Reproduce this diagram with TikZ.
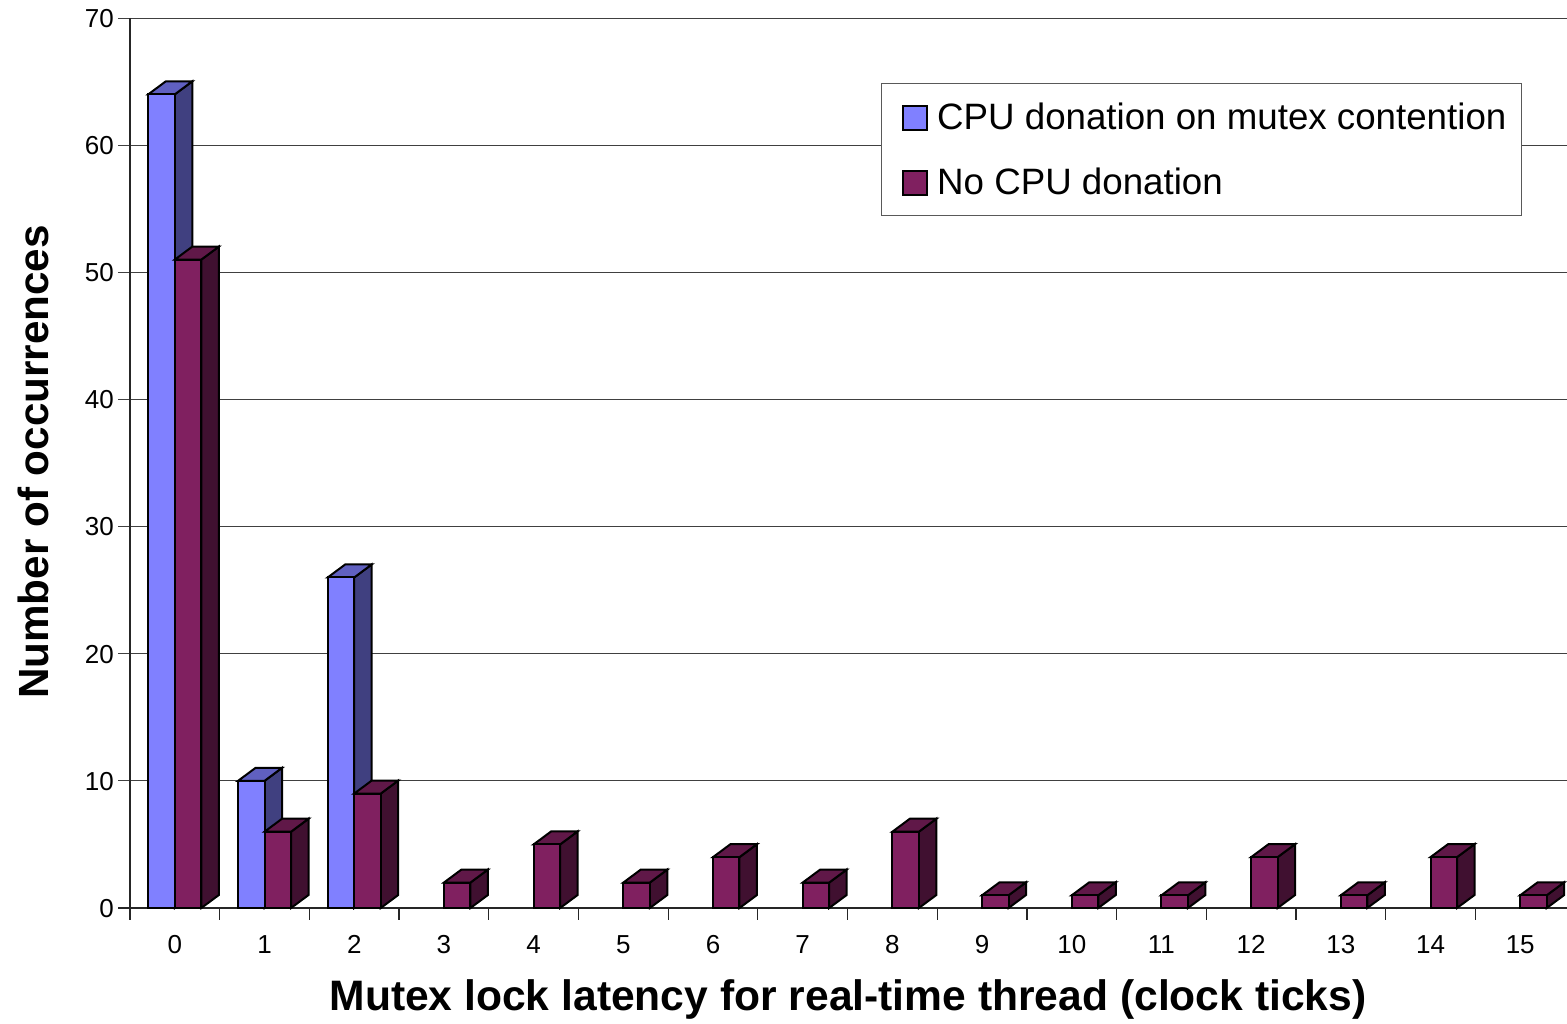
\documentclass[tikz,border=0pt]{standalone}
\usepackage{fontspec}
\setmainfont{Liberation Sans}
\definecolor{bluefront}{RGB}{128,128,255}
\definecolor{blueside}{RGB}{64,64,128}
\definecolor{bluetop}{RGB}{96,96,192}
\definecolor{redfront}{RGB}{128,32,96}
\definecolor{redside}{RGB}{64,16,48}
\definecolor{redtop}{RGB}{96,24,72}
\tikzset{
  gridline/.style={draw=black!75, line width=1pt},
  axisline/.style={draw=black!85, line width=1.2pt},
  barline/.style={draw=black, line width=2pt, line join=miter},
  ticklabel/.style={font=\fontsize{26}{30}\selectfont, inner sep=0pt},
  axistitle/.style={font=\fontsize{42.6}{50}\selectfont\bfseries, inner sep=0pt},
  legendtext/.style={font=\fontsize{36.7}{42}\selectfont, inner sep=0pt, anchor=base west},
}
% one 3-D bar: #1 left edge, #2 value, #3 front, #4 side, #5 top colour
\newcommand\chartbar[5]{%
  \pgfmathsetmacro\bartop{908-12.714*#2}%
  \filldraw[barline, fill=#4] (#1+26.5,908) -- (#1+44,895) -- (#1+44,\bartop-13) -- (#1+26.5,\bartop) -- cycle;
  \filldraw[barline, fill=#5] (#1,\bartop) -- (#1+17.5,\bartop-13) -- (#1+44,\bartop-13) -- (#1+26.5,\bartop) -- cycle;
  \filldraw[barline, fill=#3] (#1,908) rectangle (#1+26.5,\bartop);
}
\begin{document}
\begin{tikzpicture}[x=1pt,y=-1pt]
\useasboundingbox (0,0) rectangle (1567,1024);

% horizontal grid and value labels
\foreach \v in {10,20,...,70} {
  \draw[gridline] (118,908-12.714*\v) -- (1567,908-12.714*\v);
}
\foreach \v in {0,10,...,70} {
  \node[ticklabel, anchor=base east] (ylab\v) at (114,917.3-12.714*\v) {\v};
}
% axes
\draw[axisline] (130,18) -- (130,920);
\draw[axisline] (118,908) -- (1567,908);
\foreach \k in {1,...,15} {
  \draw[axisline] (130+89.69*\k,908) -- (130+89.69*\k,920);
}
% category labels
\foreach \k in {0,...,15} {
  \node[ticklabel, anchor=base] (xlab\k) at (174.85+89.69*\k,953) {\k};
}

% bars
\foreach \k/\b/\r in {0/64/51,1/10/6,2/26/9,3/0/2,4/0/5,5/0/2,6/0/4,7/0/2,8/0/6,9/0/1,10/0/1,11/0/1,12/0/4,13/0/1,14/0/4,15/0/1} {
  \pgfmathsetmacro\cx{174.85+89.69*\k}
  \ifnum\b>0 \chartbar{\cx-26.5}{\b}{bluefront}{blueside}{bluetop}\fi
  \chartbar{\cx}{\r}{redfront}{redside}{redtop}
}

% legend
\node[draw=black!65, line width=1.2pt, fill=white, minimum width=640pt, minimum height=132pt, anchor=north west, inner sep=0pt] (legend) at (881,83) {};
\filldraw[barline, fill=bluefront] (903,106) rectangle (927,130);
\filldraw[barline, fill=redfront] (903,171) rectangle (927,195);
\node[legendtext] (leg1) at (937,130) {CPU donation on mutex contention};
\node[legendtext] (leg2) at (937,195) {No CPU donation};

% axis titles
\node[axistitle, anchor=base] (xtitle) at (848,1010) {Mutex lock latency for real-time thread (clock ticks)};
\node[axistitle, anchor=base, rotate=90, font=\fontsize{42.2}{50}\selectfont\bfseries] (ytitle) at (48,462) {Number of occurrences};
\end{tikzpicture}
\end{document}
